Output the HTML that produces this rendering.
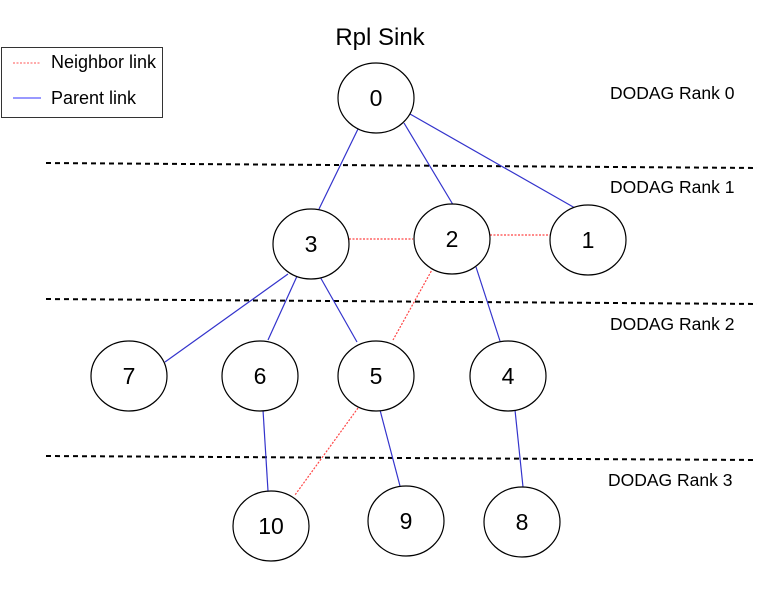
<!DOCTYPE html>
<html><head><style>body{margin:0;background:#fff}svg{display:block}</style></head>
<body>
<svg width="772" height="615" xmlns="http://www.w3.org/2000/svg" font-family="Liberation Sans, sans-serif">
<rect width="772" height="615" fill="#fff"/>
<rect x="1.5" y="47.5" width="161" height="70" fill="#fff" stroke="#333"/>
<line x1="13" y1="63" x2="41" y2="63" stroke="#f55" stroke-dasharray="2,1.5"/>
<text x="51" y="68" font-size="18">Neighbor link</text>
<line x1="13" y1="98" x2="41" y2="98" stroke="#33f"/>
<text x="51" y="104" font-size="18">Parent link</text>
<text x="380" y="45" font-size="24" text-anchor="middle">Rpl Sink</text>
<g stroke="#000" stroke-width="2" stroke-dasharray="5,4">
<line x1="46" y1="163" x2="757" y2="168"/>
<line x1="46" y1="299" x2="757" y2="304"/>
<line x1="46" y1="456" x2="757" y2="460"/>
</g>
<g font-size="17.5">
<text x="610" y="99">DODAG Rank 0</text>
<text x="610" y="193">DODAG Rank 1</text>
<text x="610" y="330">DODAG Rank 2</text>
<text x="608" y="486">DODAG Rank 3</text>
</g>
<g stroke="#33c" stroke-width="1.2">
<line x1="358" y1="129" x2="319" y2="209"/>
<line x1="404" y1="123" x2="455" y2="208"/>
<line x1="410" y1="114" x2="575" y2="208"/>
<line x1="288" y1="274" x2="165" y2="362"/>
<line x1="298" y1="274" x2="268" y2="340"/>
<line x1="319" y1="275" x2="357" y2="342"/>
<line x1="476" y1="267" x2="500" y2="341"/>
<line x1="263" y1="410" x2="268" y2="491"/>
<line x1="380" y1="410" x2="400" y2="486"/>
<line x1="515" y1="410" x2="523" y2="487"/>
</g>
<g stroke="#f44" stroke-width="1.2" stroke-dasharray="2,1.5">
<line x1="349" y1="239" x2="413" y2="239"/>
<line x1="490" y1="235" x2="552" y2="235"/>
<line x1="433" y1="268" x2="393" y2="340"/>
<line x1="358" y1="408" x2="295" y2="495"/>
</g>
<g fill="#fff" stroke="#000" stroke-width="1.2">
<ellipse cx="376" cy="98" rx="38" ry="35"/>
<ellipse cx="311" cy="244" rx="38" ry="35"/>
<ellipse cx="452" cy="239" rx="38" ry="35"/>
<ellipse cx="588" cy="240" rx="38" ry="35"/>
<ellipse cx="129" cy="376" rx="38" ry="35"/>
<ellipse cx="260" cy="376" rx="38" ry="35"/>
<ellipse cx="376" cy="376" rx="38" ry="35"/>
<ellipse cx="508" cy="376" rx="38" ry="35"/>
<ellipse cx="271" cy="526" rx="38" ry="35"/>
<ellipse cx="406" cy="521" rx="38" ry="35"/>
<ellipse cx="522" cy="522" rx="38" ry="35"/>
</g>
<g font-size="23" text-anchor="middle">
<text x="376" y="106">0</text>
<text x="311" y="252">3</text>
<text x="452" y="247">2</text>
<text x="588" y="248">1</text>
<text x="129" y="384">7</text>
<text x="260" y="384">6</text>
<text x="376" y="384">5</text>
<text x="508" y="384">4</text>
<text x="271" y="534">10</text>
<text x="406" y="529">9</text>
<text x="522" y="530">8</text>
</g>
</svg>
</body></html>
